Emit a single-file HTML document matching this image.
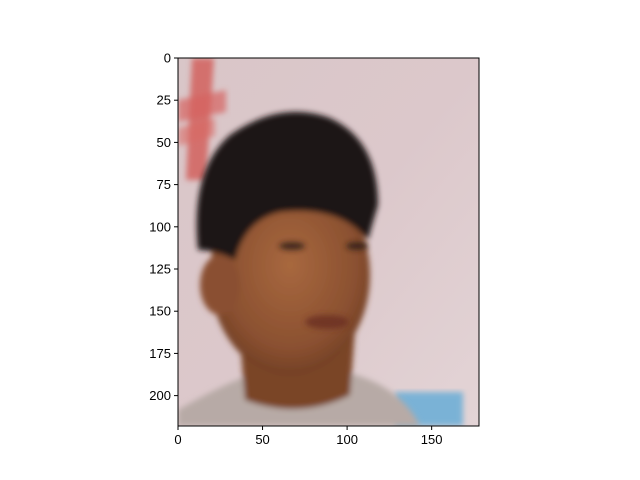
<!DOCTYPE html>
<html><head><meta charset="utf-8"><style>
html,body{margin:0;padding:0;background:#fff;}
svg{display:block;font-family:"Liberation Sans",sans-serif;}
</style></head><body>
<svg id="chart" width="640" height="480" viewBox="0 0 640 480">
<defs>
<linearGradient id="bg" x1="0" y1="0" x2="1" y2="1">
<stop offset="0" stop-color="#d9c6c8"/><stop offset="0.5" stop-color="#dcc8cb"/><stop offset="1" stop-color="#e3d4d6"/>
</linearGradient>
<radialGradient id="skin" cx="0.5" cy="0.45" r="0.6">
<stop offset="0" stop-color="#a8683f"/><stop offset="0.7" stop-color="#8a5030"/><stop offset="1" stop-color="#6a3a22"/>
</radialGradient>
<filter id="blur"><feGaussianBlur stdDeviation="3"/></filter>
<clipPath id="clip"><rect x="178" y="58" width="301" height="368"/></clipPath>
</defs>
<g clip-path="url(#clip)">
<rect x="178" y="58" width="301" height="368" fill="url(#bg)"/>
<g filter="url(#blur)">
<polygon points="192,58 214,58 206,180 186,180" fill="#d25a56" opacity="0.8"/>
<polygon points="178,100 226,90 226,112 178,122" fill="#d66260" opacity="0.7"/>
<polygon points="178,128 215,118 215,136 178,146" fill="#d86a66" opacity="0.6"/>
</g>
<rect x="395" y="392" width="68" height="34" fill="#7ab2d6" filter="url(#blur)"/>
<g filter="url(#blur)">
<path d="M178,410 Q230,380 260,372 L345,372 Q400,385 420,426 L178,426 Z" fill="#b7aaa6"/>
<path d="M240,340 L245,400 Q300,420 350,395 L355,330 Z" fill="#7a4427"/>
<ellipse cx="290" cy="275" rx="80" ry="100" fill="url(#skin)"/>
<ellipse cx="220" cy="285" rx="20" ry="30" fill="#8a5030"/>
<path d="M198,250 Q190,170 230,135 Q280,100 330,118 Q378,140 378,205 Q372,225 368,240 Q340,205 280,212 Q245,220 235,260 Q215,250 198,250 Z" fill="#1e1412"/>
</g>
<g filter="url(#blur)" opacity="0.8">
<ellipse cx="292" cy="246" rx="13" ry="4" fill="#2a1a14"/>
<ellipse cx="357" cy="246" rx="11" ry="4" fill="#2a1a14"/>
<ellipse cx="327" cy="322" rx="22" ry="7" fill="#6a2e22"/>
</g>
</g>
<rect x="178" y="58" width="301" height="368" fill="none" stroke="#000" stroke-width="1"/>
<g id="xticks"></g>
<g id="yticks"></g>
<script>
const xTicks = [0, 50, 100, 150];
const yTicks = [0, 25, 50, 75, 100, 125, 150, 175, 200];
const xMax = 178, yMax = 218;
const L = 178, T = 58, W = 301, H = 368;
function xs(v){ return L + v / xMax * W; }
function ys(v){ return T + v / yMax * H; }
const NS = "http://www.w3.org/2000/svg";
const gx = document.getElementById('xticks');
const gy = document.getElementById('yticks');
xTicks.forEach(function(v){
  const ln = document.createElementNS(NS,'line');
  
  
  ln.setAttribute('x1', xs(v)); ln.setAttribute('x2', xs(v));
  ln.setAttribute('y1', T+H); ln.setAttribute('y2', T+H+4);
  ln.setAttribute('stroke', '#000');
  gx.appendChild(ln);
  const t = document.createElementNS(NS,'text');
  
  
  t.setAttribute('x', xs(v)); t.setAttribute('y', T+H+18);
  t.setAttribute('text-anchor', 'middle'); t.setAttribute('font-size', '13');
  t.textContent = v;
  gx.appendChild(t);
});
yTicks.forEach(function(v){
  const ln = document.createElementNS(NS,'line');
  
  
  ln.setAttribute('x1', L-4); ln.setAttribute('x2', L);
  ln.setAttribute('y1', ys(v)); ln.setAttribute('y2', ys(v));
  ln.setAttribute('stroke', '#000');
  gy.appendChild(ln);
  const t = document.createElementNS(NS,'text');
  
  
  t.setAttribute('x', L-7); t.setAttribute('y', ys(v)+4.5);
  t.setAttribute('text-anchor', 'end'); t.setAttribute('font-size', '13');
  t.textContent = v;
  gy.appendChild(t);
});
</script>
</svg>
</body></html>
